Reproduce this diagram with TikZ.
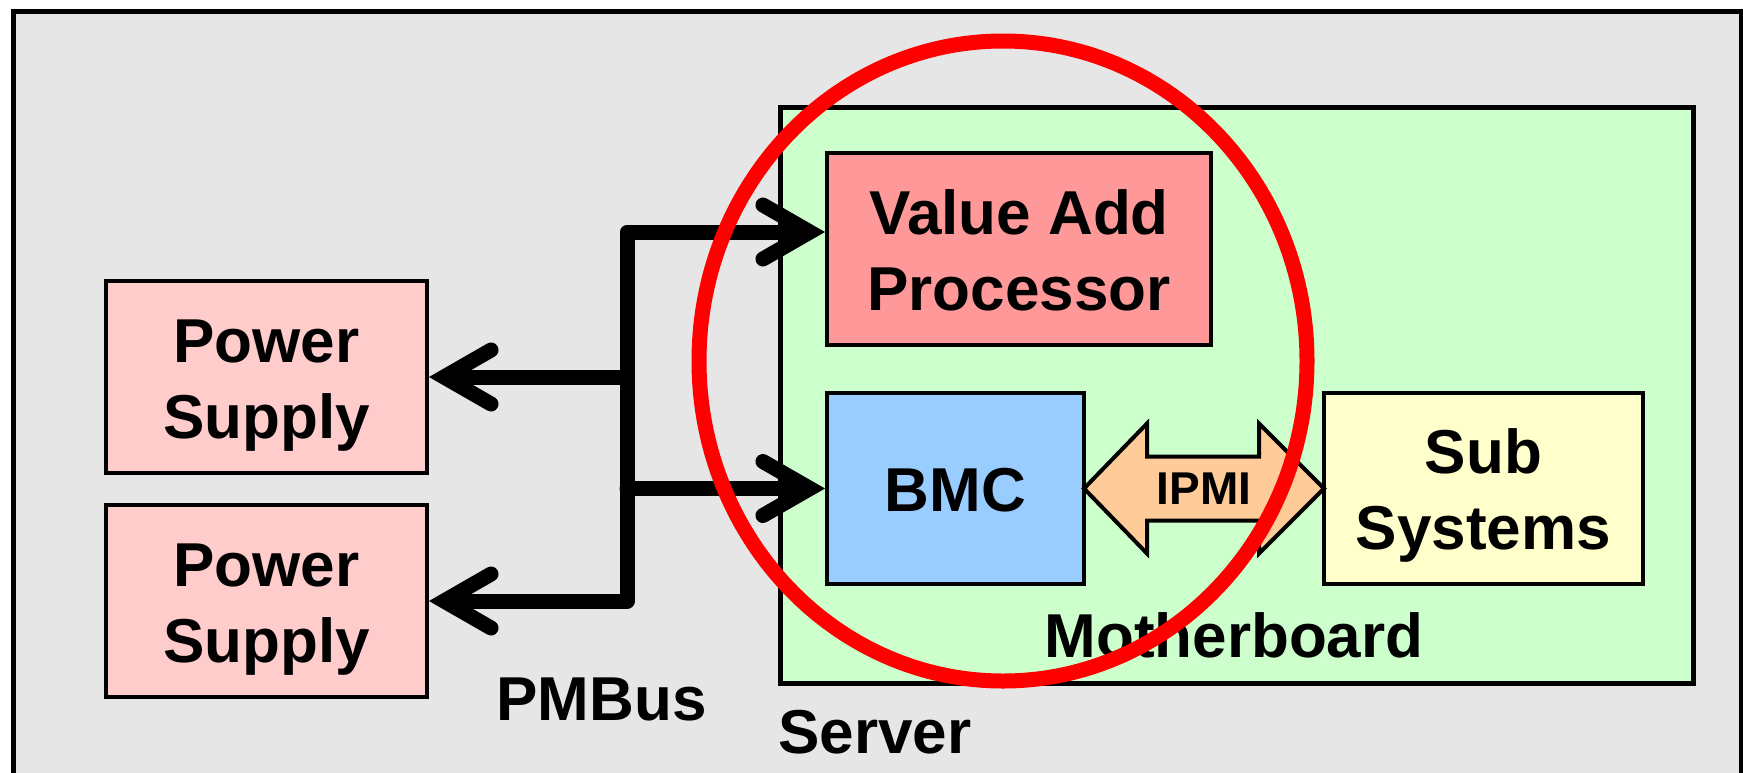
\documentclass[tikz,border=0pt]{standalone}
\usepackage{fontspec}
\setmainfont{Liberation Sans}
\usetikzlibrary{arrows.meta,calc}
\definecolor{bggray}{RGB}{230,230,230}
\definecolor{mbgreen}{RGB}{204,255,204}
\definecolor{vapred}{RGB}{255,153,153}
\definecolor{bmcblue}{RGB}{153,204,255}
\definecolor{subyellow}{RGB}{255,255,204}
\definecolor{pspink}{RGB}{255,204,204}
\definecolor{ipmipeach}{RGB}{255,204,153}
\tikzset{
  busTip/.tip={Straight Barb[length=47pt, width=54pt, line width=15pt, line cap=round, line join=miter]},
  box/.style={draw=black, line width=4pt, inner sep=0pt, align=center,
              font=\fontsize{62}{76}\selectfont\bfseries},
  twoline/.style={text height=122pt, text depth=0pt},
  oneline/.style={text height=45pt, text depth=0pt},
  container/.style={draw=black, line width=4.5pt, inner sep=0pt, anchor=north west},
  lbl/.style={inner sep=0pt, font=\fontsize{62}{76}\selectfont\bfseries},
  bus/.style={line width=15pt, line join=round, line cap=round},
  ipmiarrow/.style={draw=black, line width=4pt, fill=ipmipeach, line join=miter},
  ring/.style={draw=red, line width=15pt},
}
\begin{document}
\begin{tikzpicture}[x=1pt,y=-1pt]
\useasboundingbox (0,0) rectangle (1743,772);
\clip (0,0) rectangle (1743,772);
\fill[white] (0,0) rectangle (1743,772);

% containers
\node[container, fill=bggray, minimum width=1728pt, minimum height=781pt] (server) at (11,9) {};
\node[container, fill=mbgreen, minimum width=913pt, minimum height=576pt] (mb) at (778,105) {};

% boxes
\node[box, twoline, fill=pspink, minimum width=321pt, minimum height=192pt] (ps1) at (266.5,377) {Power\\Supply};
\node[box, twoline, fill=pspink, minimum width=321pt, minimum height=192pt] (ps2) at (266.5,601) {Power\\Supply};
\node[box, twoline, fill=vapred, minimum width=384pt, minimum height=192pt] (vap) at (1019,249) {Value Add\\Processor};
\node[box, oneline, fill=bmcblue, minimum width=257pt, minimum height=191pt] (bmc) at (955.5,488.5) {BMC};
\node[box, twoline, fill=subyellow, minimum width=319pt, minimum height=191pt] (sub) at (1483.5,488.5) {Sub\\Systems};

% labels
\node[lbl, anchor=base] (pmbus) at (601.5,720) {PMBus};
\node[lbl, anchor=base west] (serverlbl) at (778,753) {Server};
\node[lbl, anchor=base] (mblbl) at (1234,657) {Motherboard};

% PMBus
\coordinate (jt) at (627,232);
\coordinate (jb) at (627,601);
\draw[bus, busTip-busTip] (ps2.east) -- (jb) -- (jt) -- (jt -| vap.west);
\draw[bus, -busTip] (ps1.east -| jt) -- (ps1.east);
\draw[bus, -busTip] (bmc.west -| jt) -- (bmc.west);

% IPMI double arrow
\coordinate (ia) at ($(bmc.east)+(-2,0)$);
\coordinate (ib) at ($(sub.west)+(2,0)$);
\draw[ipmiarrow] (ia) -- ++(63,-65) -- ++(0,33) -- ($(ib)+(-65,-32)$) -- ++(0,-33)
  -- (ib) -- ++(-65,65) -- ++(0,-33) -- ($(ia)+(63,32)$) -- ++(0,33) -- cycle;
\node[inner sep=0pt, font=\fontsize{46}{50}\selectfont\bfseries] (ipmi) at ($(ia)!0.5!(ib)$) {IPMI};

% highlight ring
\draw[ring] (1003,361) ellipse [x radius=304, y radius=320];
\end{tikzpicture}
\end{document}
